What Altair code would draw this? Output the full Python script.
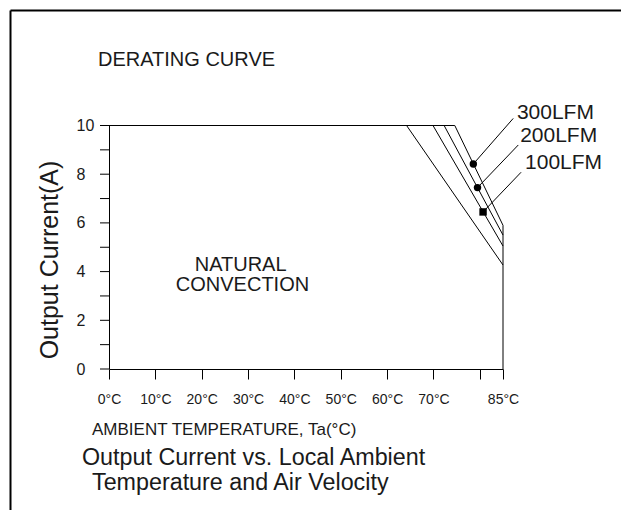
import altair as alt
import pandas as pd

FONT = "Liberation Sans"
INK = "#1a1a1a"

# Derating curves: flat at full load, then linear down to 85 °C
series_names = ["Natural Convection", "100LFM", "200LFM", "300LFM"]
series_temp = [[0, 64.2, 85], [0, 69.9, 85], [0, 72.3, 85], [0, 74.6, 85, 85]]
series_curr = [[10, 10, 4.27], [10, 10, 5.05], [10, 10, 5.5], [10, 10, 5.9, 0]]

# Markers on the forced-air curves, with leader lines to their labels
marker_names = ["300LFM", "200LFM", "100LFM"]
marker_shape = ["circle", "circle", "square"]
marker_temp = [78.6, 79.5, 80.7]
marker_curr = [8.42, 7.45, 6.45]
leader_temp = [87.2, 88.3, 88.9]
leader_curr = [10.29, 9.2, 8.08]
label_temp = [88.0, 88.7, 89.75]
label_curr = [10.53, 9.55, 8.44]

# Axis ticks
x_ticks = [0, 10, 20, 30, 40, 50, 60, 70, 80, 85]
y_ticks = list(range(0, 11))

rows = []
for name, ts, cs in zip(series_names, series_temp, series_curr):
    for i, (t, c) in enumerate(zip(ts, cs)):
        rows.append({"series": name, "idx": i, "temp": t, "current": c})
lines_df = pd.DataFrame(rows)

markers_df = pd.DataFrame({
    "name": marker_names, "shape": marker_shape,
    "temp": marker_temp, "current": marker_curr,
    "lt": leader_temp, "lc": leader_curr,
    "tx": label_temp, "ty": label_curr,
})

xs = alt.Scale(domain=[0, 85], nice=False, zero=False)
ys = alt.Scale(domain=[0, 10], nice=False, zero=False)

x_axis = alt.Axis(
    values=x_ticks,
    labelExpr="datum.value == 80 ? '' : datum.value + '°C'",
    tickSize=10, labelPadding=13, title=None, grid=False,
    labelFont=FONT, labelFontSize=14, labelColor=INK,
    tickColor="black", domainColor="black", tickWidth=1, domainWidth=1,
    labelFlush=False, labelOverlap=False,
)
y_axis = alt.Axis(
    values=[v for v in y_ticks if v % 2 == 0],
    ticks=False,
    labelPadding=33, labelAlign="left", labelBaseline="middle",
    title=None, grid=False,
    labelFont=FONT, labelFontSize=16, labelColor=INK,
    domainColor="black", domainWidth=1,
    labelFlush=False, labelOverlap=False,
)

curves = alt.Chart(lines_df).mark_line(color="black", strokeWidth=1).encode(
    x=alt.X("temp:Q", scale=xs, axis=x_axis),
    y=alt.Y("current:Q", scale=ys, axis=y_axis),
    detail="series:N",
    order="idx:Q",
)

# Every whole ampere gets a tick on the current axis
y_tick_marks = alt.Chart(pd.DataFrame({"v": y_ticks})).mark_rule(
    color="black", strokeWidth=1
).encode(
    y=alt.Y("v:Q", scale=ys), x=alt.value(-9), x2=alt.value(0),
)

leaders = alt.Chart(markers_df).mark_rule(color="black", strokeWidth=1).encode(
    x=alt.X("temp:Q", scale=xs), y=alt.Y("current:Q", scale=ys),
    x2="lt:Q", y2="lc:Q",
)

dots = alt.Chart(markers_df).mark_point(filled=True, color="black", opacity=1, size=55).encode(
    x=alt.X("temp:Q", scale=xs), y=alt.Y("current:Q", scale=ys),
    shape=alt.Shape("shape:N", scale=None, legend=None),
)

labels = alt.Chart(markers_df).mark_text(
    font=FONT, fontSize=21, align="left", baseline="middle", color=INK
).encode(
    x=alt.X("tx:Q", scale=xs), y=alt.Y("ty:Q", scale=ys), text="name:N",
)

region_df = pd.DataFrame({"text": ["NATURAL", "CONVECTION"],
                          "temp": [28.4, 28.8], "current": [4.29, 3.47]})
region = alt.Chart(region_df).mark_text(
    font=FONT, fontSize=20, align="center", baseline="middle", color=INK
).encode(
    x=alt.X("temp:Q", scale=xs), y=alt.Y("current:Q", scale=ys), text="text:N",
)

one = alt.Data(values=[{}])


def note(text, x, y, size, angle=0, align="left"):
    return alt.Chart(one).mark_text(
        text=text, font=FONT, fontSize=size, align=align, baseline="middle",
        angle=angle, color=INK,
    ).encode(x=alt.value(x), y=alt.value(y))


title = note("DERATING CURVE", -11, -65.5, 20)
x_title = note("AMBIENT TEMPERATURE, Ta(°C)", -17, 304.5, 17)
y_title = note("Output Current(A)", -59, 134.5, 25, angle=270, align="center")
caption1 = note("Output Current vs. Local Ambient", -27, 332.5, 23.3)
caption2 = note("Temperature and Air Velocity", -17, 357.5, 23.3)

# Drawing frame (left and top border)
frame_left = alt.Chart(one).mark_rule(color="black", strokeWidth=2).encode(
    x=alt.value(-98.5), y=alt.value(-115), y2=alt.value(384.5))
frame_top = alt.Chart(one).mark_rule(color="black", strokeWidth=2).encode(
    x=alt.value(-98.5), x2=alt.value(512), y=alt.value(-115))

chart = alt.layer(
    frame_left, frame_top, curves, y_tick_marks, leaders, dots, labels, region,
    title, x_title, y_title, caption1, caption2,
).properties(
    width=394, height=243.5,
    autosize=alt.AutoSizeParams(type="none"),
    padding={"left": 109, "top": 125.5, "right": 118, "bottom": 141},
    background="white",
).configure_view(stroke=None)

chart.save("out.html", embed_options={"renderer": "svg", "actions": False})
